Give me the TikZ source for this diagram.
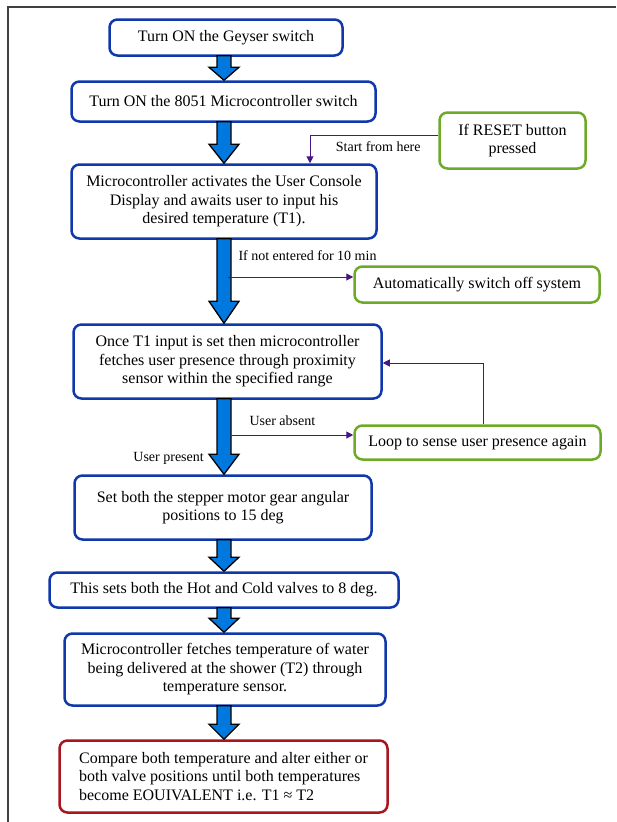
\documentclass[tikz,border=0pt]{standalone}
\usepackage{fontspec}
\setmainfont{Liberation Serif}
\usetikzlibrary{calc,arrows.meta}
\definecolor{boxblue}{RGB}{16,56,170}
\definecolor{arrowblue}{RGB}{0,120,222}
\definecolor{boxgreen}{RGB}{110,170,40}
\definecolor{boxred}{RGB}{170,20,30}
\definecolor{linkpurple}{RGB}{72,22,132}

\begin{document}
\begin{tikzpicture}[x=1pt,y=1pt,
  flowbox/.style={draw=boxblue,line width=2.5pt,rounded corners=8pt,fill=white,align=center,inner sep=0pt,font=\fontsize{16}{18.5}\selectfont},
  sidebox/.style={flowbox,draw=boxgreen},
  endbox/.style={flowbox,draw=boxred,align=left},
  note/.style={font=\fontsize{14}{16}\selectfont,inner sep=2pt},
  link/.style={draw=linkpurple,line width=1pt,-{Triangle[length=7pt,width=7pt]}},
  blockarrow/.style={fill=arrowblue,draw=black,line width=1.3pt,line join=miter}]
\useasboundingbox (0,0) rectangle (616,-822);
\draw[line width=1.3pt,black!75] (8,-822) -- (8,-7) -- (616,-7);
\coordinate (col) at (224,0);

% main column
\node[flowbox,minimum width=233,minimum height=36] (geyser) at (226,-37.5) {Turn ON the Geyser switch};
\node[flowbox,minimum width=304,minimum height=40] (mcu) at (223.5,-101.5) {Turn ON the 8051 Microcontroller switch};
\node[flowbox,minimum width=305,minimum height=74] (console) at (224,-201.5) {Microcontroller activates the User Console\\Display and awaits user to input his\\desired temperature (T1).};
\node[flowbox,minimum width=308,minimum height=74] (presence) at (227.5,-361.5) {Once T1 input is set then microcontroller\\fetches user presence through proximity\\sensor within the specified range};
\node[flowbox,minimum width=297,minimum height=64] (stepper) at (223,-507.5) {Set both the stepper motor gear angular\\positions to 15 deg};
\node[flowbox,minimum width=349,minimum height=35] (valves) at (224,-590) {This sets both the Hot and Cold valves to 8 deg.};
\node[flowbox,minimum width=321,minimum height=72] (water) at (225,-669.5) {Microcontroller fetches temperature of water\\being delivered at the shower (T2) through\\temperature sensor.};
\node[endbox,minimum width=328,minimum height=72] (compare) at (223.5,-776.5) {Compare both temperature and alter either or\\both valve positions until both temperatures\\become EOUIVALENT i.e. T1 ≈ T2};

% side boxes
\node[sidebox,minimum width=146,minimum height=56] (reset) at (512.5,-140.5) {If RESET button\\pressed};
\node[sidebox,minimum width=245,minimum height=36] (off) at (477,-284.5) {Automatically switch off system};
\node[sidebox,minimum width=246,minimum height=34] (loop) at (477.5,-442.5) {Loop to sense user presence again};

% block arrows
\foreach \a/\b/\h in {geyser/mcu/13,mcu/console/19,console/presence/22,presence/stepper/20,stepper/valves/14,valves/water/14,water/compare/15}
  \draw[blockarrow] ($(\a.south -| col)+(-7,1)$) -- ($(\b.north -| col)+(-7,\h)$) -- ($(\b.north -| col)+(-15,\h)$) -- (\b.north -| col) -- ($(\b.north -| col)+(15,\h)$) -- ($(\b.north -| col)+(7,\h)$) -- ($(\a.south -| col)+(7,1)$) -- cycle;

% purple connectors
\draw[link] ($(reset.west)+(0,5.5)$) -| node[note,pos=0.234,yshift=-12pt] (start) {Start from here} ($(console.north)+(86,0)$);
\draw[link] ($(off.west -| col)+(4,7.5)$) -- node[note,pos=0,anchor=west,xshift=8pt,yshift=21pt] (idle) {If not entered for 10 min} ($(off.west)+(0,7.5)$);
\draw[link] ($(loop.west -| col)+(6,7.5)$) -- node[note,pos=0,anchor=west,xshift=17pt,yshift=14pt] (absent) {User absent} ($(loop.west)+(0,7.5)$);
\draw[link] ($(loop.north)+(5.5,0)$) |- ($(presence.east)+(0,-1.5)$);
\node[note,anchor=east] (present) at ($(stepper.north -| col)+(-18,16)$) {User present};
\end{tikzpicture}
\end{document}
